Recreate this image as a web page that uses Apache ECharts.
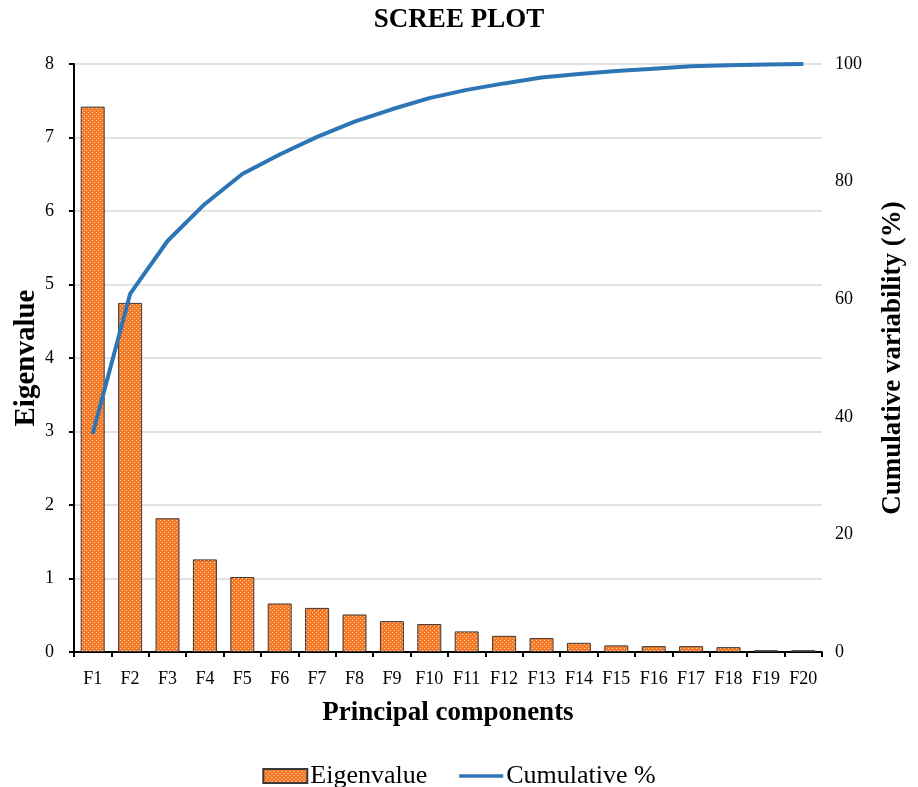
<!DOCTYPE html>
<html>
<head>
<meta charset="utf-8">
<script src="https://cdn.jsdelivr.net/npm/echarts@6/dist/echarts.min.js"></script>
<style>
html,body{margin:0;padding:0;background:#fff;}
#chart{width:918px;height:787px;}
</style>
</head>
<body>
<div id="chart"></div>
<script>
const categories = ['F1','F2','F3','F4','F5','F6','F7','F8','F9','F10','F11','F12','F13','F14','F15','F16','F17','F18','F19','F20'];
const eigenvalues = [7.42, 4.75, 1.82, 1.26, 1.02, 0.66, 0.60, 0.51, 0.42, 0.38, 0.28, 0.22, 0.19, 0.125, 0.09, 0.08, 0.08, 0.066, 0.025, 0.025];
const cumulative = [37.1, 60.9, 69.9, 76.2, 81.3, 84.6, 87.6, 90.2, 92.3, 94.2, 95.6, 96.7, 97.7, 98.3, 98.8, 99.2, 99.6, 99.8, 99.9, 100];
const leftTicks = [0,1,2,3,4,5,6,7,8];
const rightTicks = [0,20,40,60,80,100];

const FONT = '"Liberation Serif", "Times New Roman", serif';

// dotted orange pattern (Excel-like)
const pc = document.createElement('canvas');
pc.width = 4; pc.height = 4;
const pctx = pc.getContext('2d');
pctx.fillStyle = '#F47A28';
pctx.fillRect(0,0,4,4);
pctx.fillStyle = '#FFD2B4';
pctx.fillRect(0,0,1,1);
pctx.fillRect(2,2,1,1);
const barPattern = { image: pc, repeat: 'repeat' };

const chart = echarts.init(document.getElementById('chart'), null, {renderer:'canvas'});
chart.setOption({
  animation: false,
  backgroundColor: '#ffffff',
  title: {
    text: 'SCREE PLOT',
    left: 'center',
    top: 7,
    padding: 0,
    textStyle: { fontFamily: FONT, fontSize: 27, fontWeight: 'bold', color: '#000' }
  },
  legend: {
    top: 758,
    left: 'center',
    itemWidth: 44,
    itemHeight: 14,
    itemGap: 32,
    textStyle: { fontFamily: FONT, fontSize: 26, color: '#000', padding: [0,0,0,-2] },
    data: [
      { name: 'Eigenvalue', icon: 'rect' },
      { name: 'Cumulative %', icon: 'path://M0,0L45,0L45,3.8L0,3.8Z', itemStyle: { color: '#2E75B6', borderWidth: 0 } }
    ]
  },
  grid: { left: 74, right: 96, top: 64, bottom: 135, containLabel: false, outerBoundsMode: 'none' },
  xAxis: {
    type: 'category',
    data: categories,
    name: 'Principal components',
    nameLocation: 'middle',
    nameGap: 48,
    nameMoveOverlap: false,
    nameTextStyle: { fontFamily: FONT, fontSize: 27, fontWeight: 'bold', color: '#000' },
    axisLine: { lineStyle: { color: '#000', width: 2 } },
    axisTick: { show: true, length: 5, lineStyle: { color: '#000', width: 2 } },
    axisLabel: { interval: 0, margin: 18, fontFamily: FONT, fontSize: 18, color: '#000' }
  },
  yAxis: [
    {
      type: 'value',
      min: 0, max: 8, interval: 1,
      name: 'Eigenvalue',
      nameLocation: 'middle',
      nameGap: 33,
      nameMoveOverlap: false,
      nameTextStyle: { fontFamily: FONT, fontSize: 29, fontWeight: 'bold', color: '#000' },
      axisLine: { show: true, lineStyle: { color: '#000', width: 2 } },
      axisTick: { show: true, length: 5, lineStyle: { color: '#000', width: 2 } },
      axisLabel: { margin: 20, fontFamily: FONT, fontSize: 18, color: '#000',
        formatter: v => leftTicks.includes(v) ? String(v) : '' },
      splitLine: { show: true, lineStyle: { color: '#d9d9d9', width: 1.5 } }
    },
    {
      type: 'value',
      min: 0, max: 100, interval: 20,
      name: 'Cumulative variability (%)',
      nameLocation: 'middle',
      nameGap: 58,
      nameMoveOverlap: false,
      nameTextStyle: { fontFamily: FONT, fontSize: 27, fontWeight: 'bold', color: '#000' },
      axisLine: { show: false },
      axisTick: { show: false },
      axisLabel: { margin: 13, fontFamily: FONT, fontSize: 18, color: '#000',
        formatter: v => rightTicks.includes(v) ? String(v) : '' },
      splitLine: { show: false }
    }
  ],
  series: [
    {
      name: 'Eigenvalue',
      type: 'bar',
      data: eigenvalues,
      barWidth: 24,
      itemStyle: { color: barPattern, borderColor: '#3a3a3a', borderWidth: 1 }
    },
    {
      name: 'Cumulative %',
      type: 'line',
      yAxisIndex: 1,
      data: cumulative,
      symbol: 'none',
      showSymbol: false,
      lineStyle: { color: '#2E75B6', width: 4 },
      itemStyle: { color: '#2E75B6' }
    }
  ]
});
</script>
</body>
</html>
